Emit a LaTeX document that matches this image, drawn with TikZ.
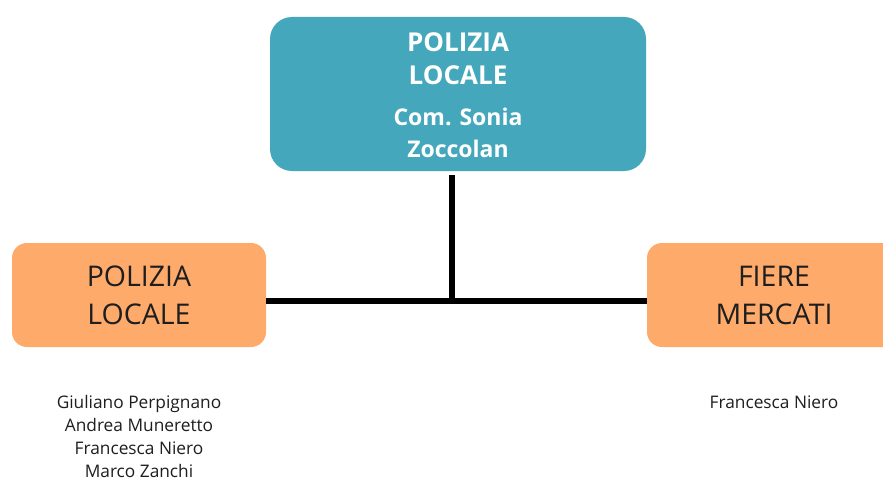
\documentclass[tikz,border=0pt]{standalone}
\usepackage{fontspec}
\setmainfont{Open Sans}
\usepackage{tikz}
\usetikzlibrary{positioning}

\definecolor{capoblu}{HTML}{45A7BB}
\definecolor{ufficioarancio}{HTML}{FDAA6B}
\definecolor{testoscuro}{HTML}{1E1E1E}

\tikzset{
    capo/.style={fill=capoblu, rounded corners=22pt, minimum width=376pt, minimum height=154pt},
    capotesto/.style={align=center, text=white},
    ufficio/.style={fill=ufficioarancio, rounded corners=15pt, minimum width=254pt, minimum height=104pt,
        align=center, text=testoscuro, font=\fontsize{28.5}{38}\selectfont},
    nomi/.style={align=center, inner sep=0pt, text=testoscuro, font=\fontsize{17.3}{23}\selectfont},
    linea/.style={line width=6pt, black}
}

\begin{document}
\begin{tikzpicture}[x=1pt,y=-1pt]
            \clip (0,0) rectangle (883,484);
            \fill[white] (0,0) rectangle (883,484);
            \node[capo] (capo) at (458,94) {};
            \node[capotesto, font=\fontsize{26}{33}\selectfont\bfseries] (capotitolo) at (458,58.5) {POLIZIA\\LOCALE};
            \node[capotesto, font=\fontsize{23}{32}\selectfont\bfseries] (caponome) at (458,133) {Com. Sonia\\Zoccolan};
            \node[ufficio] (polizia) at (139,295) {POLIZIA\\LOCALE};
            \node[ufficio] (fiere) at (774,295) {FIERE\\MERCATI};
            \node[nomi, below=48pt of polizia] (nomipolizia)
                {Giuliano Perpignano\\Andrea Muneretto\\Francesca Niero\\Marco Zanchi};
            \node[nomi, below=48pt of fiere] (nomifiere) {Francesca Niero};
            \coordinate (hub) at (451.5,300.5);
            % linee
            \draw[linea, shorten <=4pt] (capo.south -| hub) -- (hub);
            \draw[linea] (polizia.east |- hub) -- (fiere.west |- hub);
        \end{tikzpicture}
\end{document}
